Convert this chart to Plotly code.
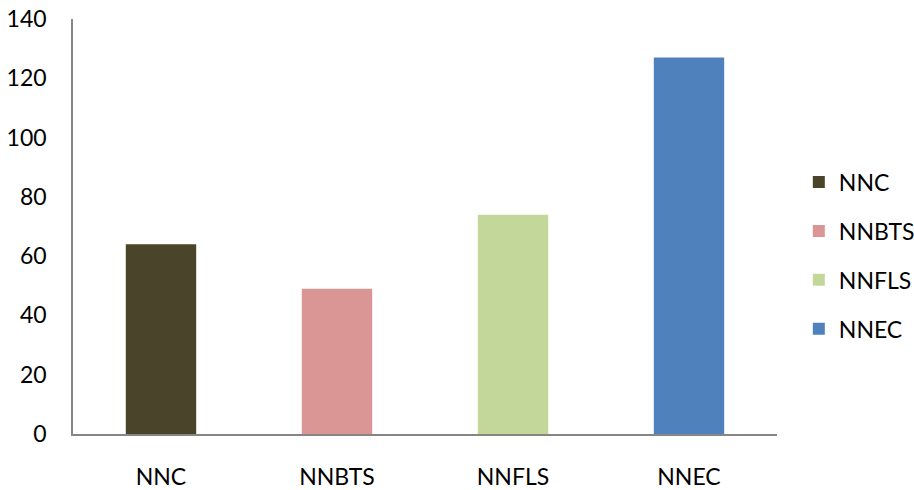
import plotly.graph_objects as go

# Model names and their scores
models = ["NNC", "NNBTS", "NNFLS", "NNEC"]
scores = [64, 49, 74, 127]
colors = ["#4A452A", "#DA9694", "#C4D79B", "#4F81BD"]

y_ticks = [0, 20, 40, 60, 80, 100, 120, 140]

fig = go.Figure()
for i, (name, val, col) in enumerate(zip(models, scores, colors)):
    fig.add_trace(go.Bar(
        x=[name], y=[val], name=name,
        marker=dict(color=col, line=dict(width=0)),
        width=0.4, legendgroup=f"g{i}",
    ))

font_family = "Lato, Carlito, Calibri, sans-serif"

fig.update_layout(
    width=914, height=490,
    margin=dict(l=73, r=137, t=19, b=56, autoexpand=False),
    paper_bgcolor="white", plot_bgcolor="white",
    barmode="overlay",
    font=dict(family=font_family, size=23, color="#000000"),
    showlegend=True,
    legend=dict(
        x=1.031, xanchor="left", y=0.43, yanchor="middle",
        font=dict(family=font_family, size=23, color="#000000"),
        tracegroupgap=16, bgcolor="rgba(0,0,0,0)",
    ),
    xaxis=dict(
        categoryorder="array", categoryarray=models,
        showline=True, linecolor="#868686", linewidth=1.5,
        showgrid=False, zeroline=False, ticks="",
        ticklabelstandoff=22, automargin=False,
        tickfont=dict(family=font_family, size=23),
    ),
    yaxis=dict(
        range=[0, 140], tickvals=y_ticks,
        showline=True, linecolor="#868686", linewidth=1.5,
        showgrid=False, zeroline=False, ticks="",
        ticklabelstandoff=20, automargin=False,
        tickfont=dict(family=font_family, size=23),
    ),
)

fig.write_html("out.html")
